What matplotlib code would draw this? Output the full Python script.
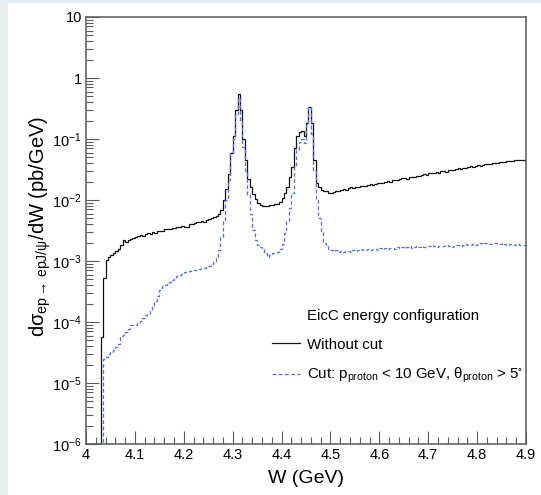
import numpy as np
import matplotlib
matplotlib.use('Agg')
import matplotlib.pyplot as plt
from matplotlib.lines import Line2D
from matplotlib.patches import Rectangle
from matplotlib.ticker import FixedLocator, LogLocator, MultipleLocator, NullFormatter

plt.rcParams['font.family'] = ['Liberation Sans', 'DejaVu Sans']
plt.rcParams['mathtext.fontset'] = 'custom'
plt.rcParams['mathtext.rm'] = 'Liberation Sans'
plt.rcParams['mathtext.it'] = 'Liberation Sans'
plt.rcParams['mathtext.bf'] = 'Liberation Sans:bold'
plt.rcParams['mathtext.default'] = 'regular'

# Binning of W (GeV): 180 bins of 5 MeV
w_lo, w_hi, n_bins = 4.0, 4.9, 180
bin_edges = np.linspace(w_lo, w_hi, n_bins + 1)

# dsigma/dW (pb/GeV) per bin, no proton cut
xsec_nocut = [
    0, 0, 0, 0, 0, 0, 5.7e-5, 5.2e-4, 1.04e-3, 1.18e-3,
    1.25e-3, 1.34e-3, 1.45e-3, 1.6e-3, 1.83e-3, 2.2e-3, 2.05e-3, 2.2e-3, 2.3e-3, 2.4e-3,
    2.5e-3, 2.55e-3, 2.65e-3, 2.6e-3, 2.75e-3, 2.85e-3, 2.8e-3, 2.95e-3, 2.9e-3, 3.05e-3,
    3.15e-3, 3.1e-3, 3.3e-3, 3.4e-3, 3.35e-3, 3.5e-3, 3.45e-3, 3.6e-3, 3.55e-3, 3.7e-3,
    3.65e-3, 3.6e-3, 4.1e-3, 4.0e-3, 4.2e-3, 4.35e-3, 4.3e-3, 4.5e-3, 4.4e-3, 4.7e-3,
    4.9e-3, 5.0e-3, 5.3e-3, 5.5e-3, 5.9e-3, 6.8e-3, 1.0e-2, 1.5e-2, 2.7e-2, 6.0e-2,
    0.11, 0.30, 0.54, 0.30, 0.10, 0.045, 0.022, 0.0165, 0.0125, 0.0105,
    9.0e-3, 8.3e-3, 8.1e-3, 8.0e-3, 8.0e-3, 8.3e-3, 8.2e-3, 8.5e-3, 8.6e-3, 9.3e-3,
    0.0107, 0.0128, 0.0166, 0.024, 0.035, 0.07, 0.11, 0.128, 0.135, 0.11,
    0.18, 0.34, 0.18, 0.045, 0.0188, 0.0166, 0.0146, 0.0142, 0.0138, 0.0132,
    0.0129, 0.0135, 0.0140, 0.0138, 0.0146, 0.0150, 0.0147, 0.0156, 0.0161, 0.0158,
    0.0166, 0.0163, 0.0170, 0.0172, 0.0168, 0.0177, 0.0181, 0.0176, 0.0186, 0.0190,
    0.0193, 0.0188, 0.0200, 0.0205, 0.0201, 0.0210, 0.0214, 0.0209, 0.0220, 0.0226,
    0.0231, 0.0225, 0.0236, 0.0241, 0.0236, 0.0248, 0.0245, 0.0258, 0.0264, 0.0257,
    0.0272, 0.0278, 0.0273, 0.0285, 0.0280, 0.0294, 0.0300, 0.0293, 0.0308, 0.0316,
    0.0310, 0.0325, 0.0331, 0.0326, 0.0340, 0.0336, 0.0349, 0.0355, 0.0350, 0.0364,
    0.0370, 0.0366, 0.0380, 0.0388, 0.0383, 0.0396, 0.0404, 0.0398, 0.0410, 0.0418,
    0.0413, 0.0425, 0.0431, 0.0440, 0.0436, 0.0445, 0.0452, 0.0447, 0.0455, 0.0446,
]

# dsigma/dW (pb/GeV) per bin, with p_proton < 10 GeV and theta_proton > 5 deg
xsec_cut = [
    0, 0, 0, 0, 0, 0, 0, 2.5e-5, 2.7e-5, 3.0e-5,
    3.2e-5, 3.5e-5, 3.9e-5, 4.3e-5, 5.8e-5, 6.2e-5, 6.9e-5, 7.8e-5, 9.0e-5, 8.8e-5,
    8.9e-5, 9.5e-5, 1.05e-4, 1.15e-4, 1.3e-4, 1.35e-4, 1.6e-4, 1.75e-4, 2.2e-4, 2.7e-4,
    3.3e-4, 3.9e-4, 4.0e-4, 4.3e-4, 4.6e-4, 4.9e-4, 5.3e-4, 5.6e-4, 5.9e-4, 6.2e-4,
    6.5e-4, 6.7e-4, 6.8e-4, 7.0e-4, 7.1e-4, 7.2e-4, 7.4e-4, 7.6e-4, 7.7e-4, 8.0e-4,
    8.3e-4, 8.6e-4, 9.5e-4, 1.1e-3, 1.5e-3, 2.5e-3, 4.7e-3, 1.0e-2, 2.1e-2, 5.8e-2,
    0.10, 0.25, 0.47, 0.20, 0.075, 0.030, 0.012, 6.0e-3, 3.2e-3, 2.2e-3,
    1.83e-3, 1.7e-3, 1.55e-3, 1.35e-3, 1.15e-3, 1.25e-3, 1.36e-3, 1.33e-3, 1.40e-3, 1.55e-3,
    1.9e-3, 2.85e-3, 4.5e-3, 7.5e-3, 1.3e-2, 3.5e-2, 0.066, 0.090, 0.10, 0.085,
    0.17, 0.33, 0.12, 0.030, 0.010, 5.0e-3, 3.0e-3, 2.0e-3, 1.8e-3, 1.6e-3,
    1.5e-3, 1.45e-3, 1.52e-3, 1.40e-3, 1.46e-3, 1.38e-3, 1.44e-3, 1.47e-3, 1.43e-3, 1.50e-3,
    1.46e-3, 1.52e-3, 1.55e-3, 1.49e-3, 1.53e-3, 1.58e-3, 1.51e-3, 1.56e-3, 1.60e-3, 1.54e-3,
    1.62e-3, 1.57e-3, 1.63e-3, 1.59e-3, 1.66e-3, 1.61e-3, 1.58e-3, 1.67e-3, 1.64e-3, 1.70e-3,
    1.62e-3, 1.68e-3, 1.73e-3, 1.66e-3, 1.71e-3, 1.75e-3, 1.69e-3, 1.78e-3, 1.72e-3, 1.68e-3,
    1.76e-3, 1.80e-3, 1.74e-3, 1.70e-3, 1.77e-3, 1.73e-3, 1.79e-3, 1.83e-3, 1.76e-3, 1.72e-3,
    1.78e-3, 1.84e-3, 1.80e-3, 1.76e-3, 1.82e-3, 1.87e-3, 1.81e-3, 1.85e-3, 1.90e-3, 1.84e-3,
    1.92e-3, 1.97e-3, 1.91e-3, 1.99e-3, 1.94e-3, 1.88e-3, 1.95e-3, 2.0e-3, 1.93e-3, 1.89e-3,
    1.95e-3, 1.90e-3, 1.86e-3, 1.92e-3, 1.88e-3, 1.84e-3, 1.87e-3, 1.83e-3, 1.85e-3, 1.82e-3,
]

y_lo, y_hi = 1e-6, 10
xtick_vals = [4.0, 4.1, 4.2, 4.3, 4.4, 4.5, 4.6, 4.7, 4.8, 4.9]
xtick_labels = ['4', '4.1', '4.2', '4.3', '4.4', '4.5', '4.6', '4.7', '4.8', '4.9']
ytick_vals = [1e-6, 1e-5, 1e-4, 1e-3, 1e-2, 1e-1, 1, 10]
ytick_labels = ['$10^{-6}$', '$10^{-5}$', '$10^{-4}$', '$10^{-3}$',
                '$10^{-2}$', '$10^{-1}$', '1', '10']

label_nocut = 'Without cut'
label_cut = r'Cut: p$_{proton}$ < 10 GeV, $\theta_{proton}$ > 5$^{\circ}$'
header = 'EicC energy configuration'

frame_col = '#5a5a5a'
nocut_col = '#111111'
cut_col = '#4d6ef5'
cut_dash = (0, (3, 2))

fig = plt.figure(figsize=(5.41, 4.95), dpi=100)
fig.patch.set_facecolor('#e6edf1')
fig.add_artist(Rectangle((8 / 541, 0), 1, 1 - 3 / 495, transform=fig.transFigure,
                         facecolor='white', edgecolor='none', zorder=0))

ax = fig.add_axes([86 / 541, 1 - 444 / 495, 440 / 541, 427 / 495])
ax.set_facecolor('white')

# empty bins sit on the bottom edge of the log axis
h_nocut = np.maximum(np.array(xsec_nocut), y_lo)
h_cut = np.maximum(np.array(xsec_cut), y_lo)

ax.stairs(h_nocut, bin_edges, baseline=None, color=nocut_col, lw=0.9)
ax.stairs(h_cut, bin_edges, baseline=None, color=cut_col, lw=0.9, linestyle=cut_dash)

ax.set_yscale('log')
ax.set_xlim(w_lo, w_hi)
ax.set_ylim(y_lo, y_hi)

ax.xaxis.set_major_locator(FixedLocator(xtick_vals))
ax.set_xticklabels(xtick_labels)
ax.xaxis.set_minor_locator(MultipleLocator(0.02))
ax.yaxis.set_major_locator(FixedLocator(ytick_vals))
ax.set_yticklabels(ytick_labels)
ax.yaxis.set_minor_locator(LogLocator(base=10, subs=np.arange(2, 10), numticks=20))
ax.yaxis.set_minor_formatter(NullFormatter())

ax.tick_params(which='both', direction='in', top=False, right=False,
               color=frame_col, width=0.8, labelsize=10.5)
ax.tick_params(which='major', length=9.5, pad=3)
ax.tick_params(which='minor', length=4.8)
for sp in ax.spines.values():
    sp.set_color(frame_col)
    sp.set_linewidth(1.1)

ax.set_xlabel('W (GeV)', fontsize=14)
ax.xaxis.set_label_coords(0.5, -0.062)
ax.set_ylabel(r'd$\sigma_{ep{\rightarrow}\,epJ/\psi}$/dW (pb/GeV)', fontsize=14.5)
ax.yaxis.set_label_coords(-0.076, 0.51)

handles = [Line2D([], [], color='none'),
           Line2D([], [], color=nocut_col, lw=0.9),
           Line2D([], [], color=cut_col, lw=0.9, linestyle=cut_dash)]
ax.legend(handles, [header, label_nocut, label_cut], loc='upper left',
          bbox_to_anchor=(0.423, 0.315), frameon=False, fontsize=10.8,
          handlelength=1.87, handletextpad=0.47, labelspacing=0.95,
          borderpad=0, borderaxespad=0)

fig.savefig('out.png', dpi=100)
